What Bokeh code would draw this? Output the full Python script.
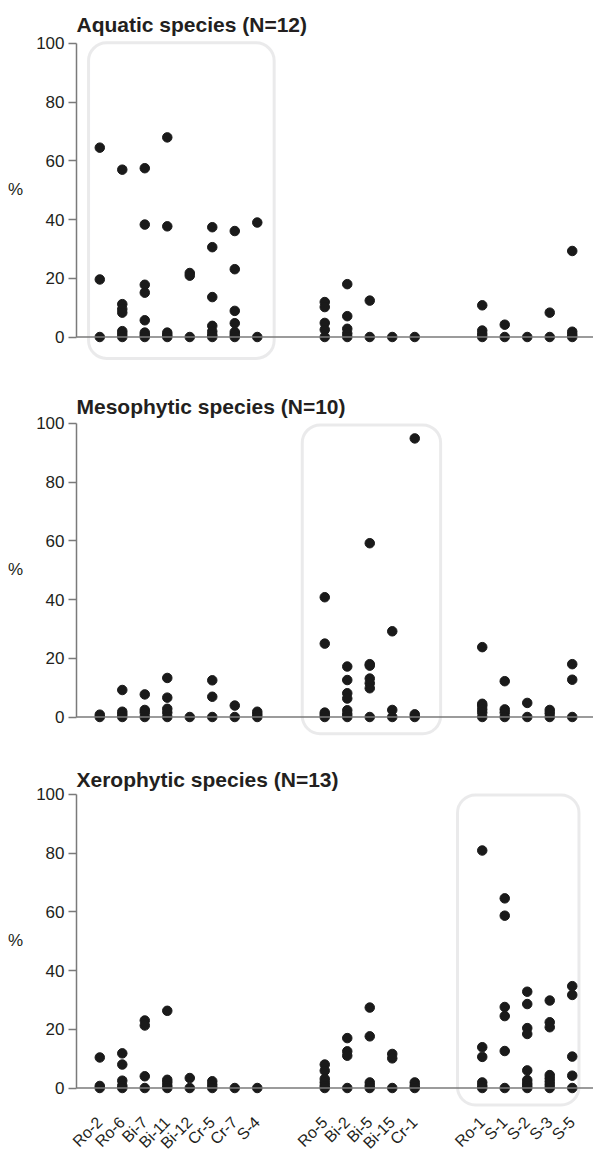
import math
from bokeh.plotting import figure
from bokeh.layouts import column
from bokeh.models import Range1d, Span, BoxAnnotation, FixedTicker
from bokeh.embed import file_html
from bokeh.resources import INLINE

# ---------------- data ----------------
categories = ["Ro-2", "Ro-6", "Bi-7", "Bi-11", "Bi-12", "Cr-5", "Cr-7", "S-4",
              "Ro-5", "Bi-2", "Bi-5", "Bi-15", "Cr-1",
              "Ro-1", "S-1", "S-2", "S-3", "S-5"]
group_sizes = [8, 5, 5]

aquatic = [
    [64.5, 19.6, 0], [57, 11.2, 9.5, 8.3, 2, 1, 0], [57.5, 38.3, 17.8, 15.1, 5.7, 1.5, 0.7, 0],
    [68, 37.7, 1.5, 0.7, 0], [21.8, 20.9, 0], [37.4, 30.6, 13.6, 3.8, 1.9, 0.7, 0],
    [36.1, 23.1, 8.9, 4.7, 1.7, 0.8, 0], [39, 0],
    [11.9, 10.2, 4.8, 2.5, 0], [18, 7.1, 2.8, 1.2, 0], [12.4, 0], [0], [0],
    [10.8, 2.2, 1, 0], [4.2, 0], [0], [8.3, 0], [29.3, 1.8, 0.8, 0],
]
mesophytic = [
    [0.8, 0], [9.2, 1.8, 0.9, 0], [7.7, 2.4, 1.5, 0], [13.3, 6.6, 2.8, 1.5, 0], [0],
    [12.5, 6.9, 0], [3.9, 0], [1.8, 0.9, 0],
    [40.8, 25, 1.5, 0.8, 0], [17.2, 12.6, 8.1, 6.3, 2.3, 1, 0],
    [59.2, 18, 17.5, 13.1, 11.5, 9.8, 0], [29.2, 2.4, 0], [94.9, 0.9, 0],
    [23.8, 4.5, 3.8, 2.6, 1.5, 0], [12.2, 2.6, 1.5, 0], [4.8, 0], [2.4, 1.3, 0], [18, 12.7, 0],
]
xerophytic = [
    [10.4, 0.7, 0], [11.8, 8, 2.5, 0.8, 0], [23, 21.3, 4, 0], [26.3, 2.8, 1.9, 0.8, 0],
    [3.4, 0], [2.3, 1.1, 0], [0], [0],
    [8, 5.9, 3.1, 1.9, 0.8, 0], [17, 12.5, 11, 0], [27.4, 17.6, 1.9, 0.8, 0],
    [11.6, 10.1, 0], [1.9, 0.8, 0],
    [80.9, 13.9, 10.6, 1.9, 0.8, 0], [64.6, 58.7, 27.6, 24.5, 12.6, 0],
    [32.8, 28.6, 20.4, 18.4, 6, 2.7, 1.6, 0.8, 0],
    [29.8, 22.4, 20.7, 4.4, 3.3, 2.2, 1.1, 0], [34.7, 31.7, 10.7, 4.2, 0],
]
titles = ["Aquatic species (N=12)", "Mesophytic species (N=10)", "Xerophytic species (N=13)"]
y_ticks = [0, 20, 40, 60, 80, 100]

# ---------------- layout helpers ----------------
positions = []
pos = 0
for gi, n in enumerate(group_sizes):
    for k in range(n):
        positions.append(pos)
        pos += 1
    pos += 2

FONT = "Liberation Sans"
AXIS_GREY = "#7a7a7a"
BOX_GREY = "#babbbe"
TXT = "#231f20"

panels = [
    dict(data=aquatic, title=titles[0], box=(-0.5, 7.75, 100.2, -7.3), top=40, bottom=20, standoff=9, xlabels=False),
    dict(data=mesophytic, title=titles[1], box=(9.0, 15.15, 99.5, -5.7), top=40, bottom=20, standoff=5, xlabels=False),
    dict(data=xerophytic, title=titles[2], box=(15.9, 21.3, 99.8, -5.8), top=31, bottom=44, standoff=1, xlabels=True),
]

figs = []
for pn in panels:
    p = figure(frame_width=517, frame_height=320, output_backend="svg", toolbar_location=None,
               x_range=Range1d(-1.035, 21.945), y_range=Range1d(-8, 101),
               min_border_left=76, min_border_right=0,
               min_border_top=pn["top"], min_border_bottom=pn["bottom"])
    p.outline_line_color = None
    p.grid.visible = False
    p.background_fill_color = "white"
    p.border_fill_color = "white"

    p.title.text = pn["title"]
    p.title.text_font = FONT
    p.title.text_font_size = "21px"
    p.title.text_font_style = "bold"
    p.title.text_color = TXT
    p.title.align = "left"
    p.title.standoff = pn["standoff"]
    p.title.offset = 0

    # y axis
    ya = p.yaxis[0]
    ya.bounds = (0, 100)
    ya.ticker = FixedTicker(ticks=y_ticks)
    ya.axis_line_color = AXIS_GREY
    ya.axis_line_width = 1.5
    ya.major_tick_line_color = AXIS_GREY
    ya.major_tick_line_width = 1.5
    ya.major_tick_out = 8
    ya.major_tick_in = 0
    ya.minor_tick_line_color = None
    ya.major_label_text_font = FONT
    ya.major_label_text_font_size = "17px"
    ya.major_label_text_color = TXT
    ya.major_label_standoff = 4
    ya.axis_label = "%\n "
    ya.axis_label_orientation = "horizontal"
    ya.axis_label_text_font = FONT
    ya.axis_label_text_font_size = "17px"
    ya.axis_label_text_font_style = "normal"
    ya.axis_label_text_color = TXT
    ya.axis_label_standoff = 10

    # x axis
    xa = p.xaxis[0]
    if pn["xlabels"]:
        xa.ticker = FixedTicker(ticks=positions)
        xa.major_label_overrides = {positions[i]: categories[i] for i in range(len(categories))}
        xa.axis_line_color = None
        xa.major_tick_line_color = None
        xa.minor_tick_line_color = None
        xa.major_tick_out = 0
        xa.major_tick_in = 0
        xa.major_label_orientation = math.pi / 4
        xa.major_label_text_font = FONT
        xa.major_label_text_font_size = "16px"
        xa.major_label_text_color = TXT
        xa.major_label_standoff = 8
    else:
        xa.visible = False

    # baseline at 0
    p.add_layout(Span(location=0, dimension="width", line_color=AXIS_GREY, line_width=1.5))

    # rounded highlight box
    l, r, t, b = pn["box"]
    p.add_layout(BoxAnnotation(left=l, right=r, top=t, bottom=b, fill_alpha=0,
                               line_color=BOX_GREY, line_width=3, border_radius=18, level="underlay"))

    xs, ys = [], []
    for i, vals in enumerate(pn["data"]):
        for v in vals:
            xs.append(positions[i])
            ys.append(v)
    p.scatter(xs, ys, size=9.5, color="#1a1a1a")
    figs.append(p)

layout = column(*figs, spacing=0)
open("out.html", "w").write(file_html(layout, INLINE))
